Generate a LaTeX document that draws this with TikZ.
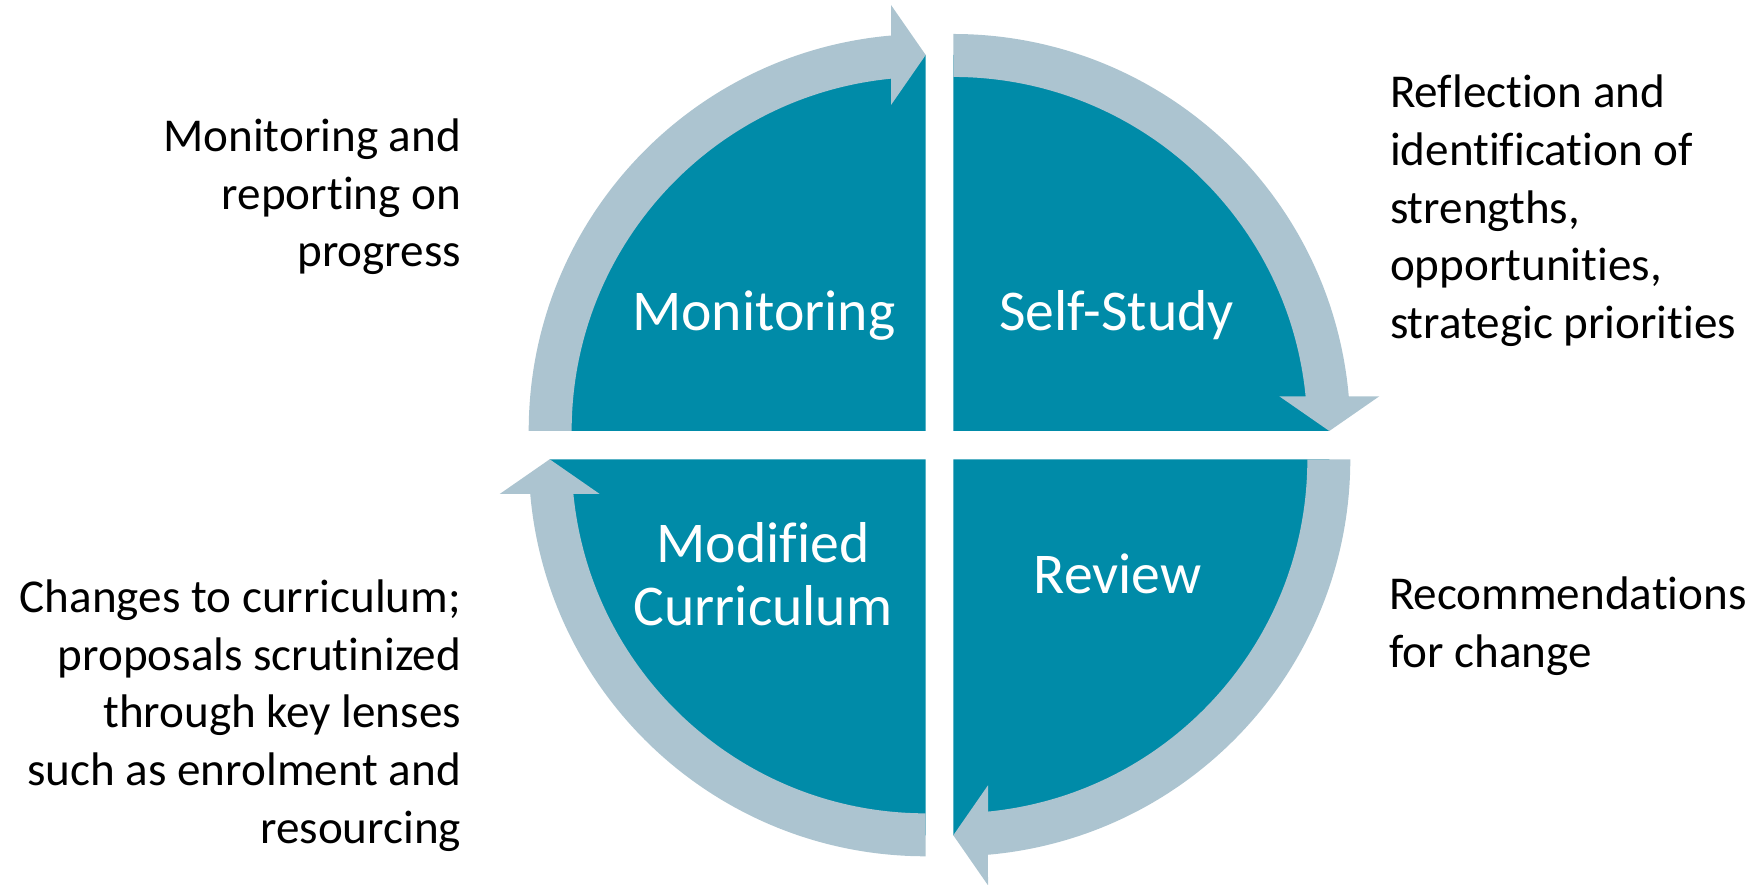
\documentclass[tikz,border=0pt]{standalone}
\usepackage{fontspec}
\setmainfont{Carlito}[RawFeature=-liga, RawFeature=-clig, RawFeature=-dlig, RawFeature=-calt, RawFeature=-ccmp]
\definecolor{cycteal}{RGB}{0,139,168}
\definecolor{cycgrey}{RGB}{172,196,208}
\tikzstyle{quarter} = [fill=cycteal]
\tikzstyle{band} = [fill=cycgrey]
\tikzstyle{stage} = [text=white, font=\fontsize{16.4}{18}\selectfont, align=center, inner sep=0pt]
\tikzstyle{note} = [text=black, font=\fontsize{13.4}{16.4}\selectfont, inner sep=0pt]

% one quadrant: teal quarter disc with its curved arrow on top
\newcommand{\stagequarter}[2]{%
  \begin{scope}[shift={#1}, rotate=#2]
    \fill[quarter] (0,0) -- (-376,0) arc[start angle=180, end angle=90, radius=376] -- cycle;
    \fill[band] (-397,0) arc[start angle=180, end angle=95.01, radius=397]
      -- (-34.7,426) -- (0,376) -- (-34.7,326) -- (-34.7,352.3)
      arc[start angle=95.62, end angle=180, radius=354] -- cycle;
  \end{scope}}

\begin{document}
\begin{tikzpicture}[x=0.01cm, y=0.01cm]

  \useasboundingbox (0,0) rectangle (1760,885);

  \stagequarter{(925.7,454)}{0}
  \stagequarter{(953.3,454)}{-90}
  \stagequarter{(953.3,425.7)}{-180}
  \stagequarter{(925.7,425.7)}{-270}

  \node (monitoring) [stage, anchor=base] at (763.8,554) {Monitoring};
  \node (selfstudy) [stage, anchor=base] at (1116.7,554) {Self-Study};
  \node (review) [stage, anchor=base] at (1117.5,291.7) {Review};
  \node (modified) [stage, anchor=north] at (763,367.6) {\strut Modified\\Curriculum};

  \node (monnote) [note, anchor=north east, align=right] at (461.7,774.6) {\strut Monitoring and\\reporting on\\progress};
  \node (selfnote) [note, anchor=north west, align=left] at (1389.3,818.4) {\strut Reflection and\\identification of\\strengths,\\opportunities,\\strategic priorities};
  \node (reviewnote) [note, anchor=north west, align=left] at (1388.3,316.4) {\strut Recommendations\\for change};
  \node (modnote) [note, anchor=north east, align=right] at (461.7,313.6) {\strut Changes to curriculum;\\proposals scrutinized\\through key lenses\\such as enrolment and\\resourcing};

\end{tikzpicture}
\end{document}
